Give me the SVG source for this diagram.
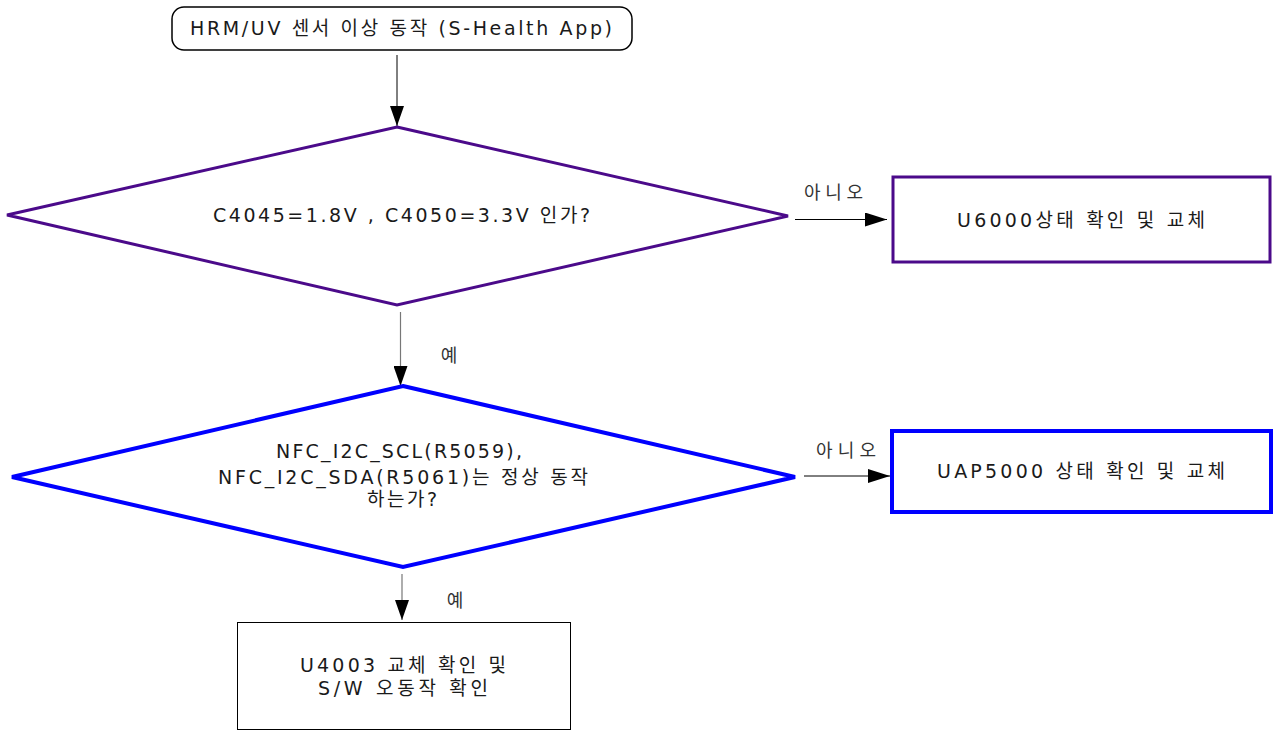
<svg xmlns="http://www.w3.org/2000/svg" width="1273" height="731" viewBox="0 0 1273 731">
<style>
text{font-family:"DejaVu Sans","Noto Sans CJK KR",sans-serif;font-size:19px;fill:#1a1a1a;text-anchor:middle}
.lbl{font-size:18px;fill:#333}
</style>
<defs>
<marker id="ahv" markerWidth="14" markerHeight="20" refX="7" refY="20" orient="0" markerUnits="userSpaceOnUse">
<path d="M0,0 L14,0 L7,20 z" fill="#000"/>
</marker>
<marker id="ahh" markerWidth="22" markerHeight="14" refX="22" refY="7" orient="0" markerUnits="userSpaceOnUse">
<path d="M0,0 L22,7 L0,14 z" fill="#000"/>
</marker>
</defs>
<rect width="1273" height="731" fill="#fff"/>
<g id="connectors">
<path d="M397,55 V126" fill="none" stroke="#000" stroke-width="1" marker-end="url(#ahv)"/>
<path d="M795,219.5 H887" fill="none" stroke="#000" stroke-width="1" marker-end="url(#ahh)"/>
<path d="M400.5,312 V386" fill="none" stroke="#777" stroke-width="1.2" marker-end="url(#ahv)"/>
<path d="M804,476 H890" fill="none" stroke="#000" stroke-width="1" marker-end="url(#ahh)"/>
<path d="M402,574 V620" fill="none" stroke="#777" stroke-width="1.2" marker-end="url(#ahv)"/>
<text class="lbl" x="833.5" y="199" textLength="59" lengthAdjust="spacing">아니오</text>
<text class="lbl" x="449" y="362">예</text>
<text class="lbl" x="846" y="457" textLength="60" lengthAdjust="spacing">아니오</text>
<text class="lbl" x="455" y="607">예</text>
</g>
<g id="start">
<rect x="172" y="7" width="460" height="43" rx="12" ry="12" fill="#fff" stroke="#000" stroke-width="1.5"/>
<text x="401" y="35" textLength="422" lengthAdjust="spacing">HRM/UV 센서 이상 동작 (S-Health App)</text>
</g>
<g id="decision1">
<polygon points="397,127 788,216 397,305 7,215" fill="#fff" stroke="#4b0a8a" stroke-width="3"/>
<text x="401.5" y="222" textLength="377" lengthAdjust="spacing">C4045=1.8V , C4050=3.3V 인가?</text>
</g>
<g id="box1">
<rect x="893" y="177" width="377" height="85" fill="#fff" stroke="#4b0a8a" stroke-width="3"/>
<text x="1081" y="227" textLength="248" lengthAdjust="spacing">U6000상태 확인 및 교체</text>
</g>
<g id="decision2">
<polygon points="403,386 795,477 403,567 12,477" fill="#fff" stroke="#0000ff" stroke-width="4"/>
<text x="399" y="458" textLength="246" lengthAdjust="spacing">NFC_I2C_SCL(R5059),</text>
<text x="403" y="484" textLength="370" lengthAdjust="spacing">NFC_I2C_SDA(R5061)는 정상 동작</text>
<text x="402" y="506" textLength="70" lengthAdjust="spacing">하는가?</text>
</g>
<g id="box2">
<rect x="892" y="431" width="379" height="81" fill="#fff" stroke="#0000ff" stroke-width="4"/>
<text x="1081" y="478" textLength="288" lengthAdjust="spacing">UAP5000 상태 확인 및 교체</text>
</g>
<g id="box3">
<rect x="237.5" y="622.5" width="333" height="107" fill="#fff" stroke="#000" stroke-width="1"/>
<text x="403" y="672" textLength="206" lengthAdjust="spacing">U4003 교체 확인 및</text>
<text x="403" y="695" textLength="170" lengthAdjust="spacing">S/W 오동작 확인</text>
</g>
</svg>
